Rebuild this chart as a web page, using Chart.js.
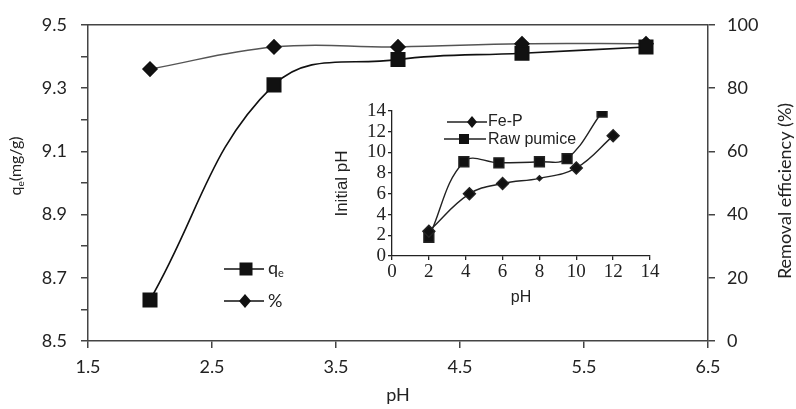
<!DOCTYPE html>
<html>
<head>
<meta charset="utf-8">
<script src="https://cdn.jsdelivr.net/npm/chart.js@4"></script>
<style>
  html, body { margin: 0; padding: 0; background: #fff; }
  #wrap { position: relative; width: 796px; height: 409px; }
  #mainChart { position: absolute; left: 0; top: 0; }
  #insetChart { position: absolute; left: 332px; top: 95px; }
</style>
</head>
<body>
<div id="wrap">
  <canvas id="mainChart" width="796" height="409"></canvas>
  <canvas id="insetChart" width="338" height="212"></canvas>
</div>
<script>
// Main chart data
const phValues = [2, 3, 4, 5, 6];
const qeValues = [8.63, 9.31, 9.39, 9.41, 9.43];
const removalValues = [86, 93, 93, 94, 94];

// Inset data (initial pH vs final pH)
const fePh = [2, 4.2, 6, 8, 10, 12];
const fePInitial = [2.4, 6.0, 7.0, 7.5, 8.5, 11.6];
const pumicePh = [2, 3.9, 5.8, 8, 9.5, 11.4];
const pumiceInitial = [1.8, 9.1, 9.0, 9.1, 9.4, 13.9];

// Tick labels
const phTicks = [1.5, 2.5, 3.5, 4.5, 5.5, 6.5];
const qeTicks = [8.5, 8.7, 8.9, 9.1, 9.3, 9.5];
const qeMinorTicks = [8.6, 8.8, 9.0, 9.2, 9.4];
const removalTicks = [0, 20, 40, 60, 80, 100];
const insetTicks = [0, 2, 4, 6, 8, 10, 12, 14];

const mainFont = 'Lato';
const serifFont = 'Liberation Serif, DejaVu Serif, serif';
const sansFont = 'Liberation Sans, DejaVu Sans, sans-serif';
const textColor = '#222';
const axisColor = '#444';

function toPoints(xs, ys) {
    return xs.map((x, i) => ({ x: x, y: ys[i] }));
}

// Desenha texto com subscrito (q + e)
function drawSubText(ctx, base, sub, rest, size, x, y) {
    const subSize = Math.round(size * 0.6);
    ctx.textAlign = 'left';
    ctx.textBaseline = 'middle';
    ctx.font = size + 'px ' + mainFont;
    const w1 = ctx.measureText(base).width;
    ctx.fillText(base, x, y);
    ctx.font = subSize + 'px ' + mainFont;
    const w2 = ctx.measureText(sub).width;
    ctx.fillText(sub, x + w1, y + size * 0.3);
    ctx.font = size + 'px ' + mainFont;
    ctx.fillText(rest, x + w1 + w2, y);
}

function subTextWidth(ctx, base, sub, rest, size) {
    ctx.font = size + 'px ' + mainFont;
    const w = ctx.measureText(base + rest).width;
    ctx.font = Math.round(size * 0.6) + 'px ' + mainFont;
    return w + ctx.measureText(sub).width;
}

function drawSquare(ctx, x, y, half) {
    ctx.fillRect(x - half, y - half, half * 2, half * 2);
}

function drawDiamond(ctx, x, y, hw, hh) {
    ctx.beginPath();
    ctx.moveTo(x, y - hh);
    ctx.lineTo(x + hw, y);
    ctx.lineTo(x, y + hh);
    ctx.lineTo(x - hw, y);
    ctx.closePath();
    ctx.fill();
}

// Titulos, moldura e legenda do grafico principal
const mainExtras = {
    id: 'mainExtras',
    afterDraw(chart) {
        const ctx = chart.ctx;
        const area = chart.chartArea;
        ctx.save();
        ctx.strokeStyle = axisColor;
        ctx.lineWidth = 1.5;
        ctx.beginPath();
        ctx.moveTo(area.left, area.top);
        ctx.lineTo(area.right, area.top);
        ctx.stroke();

        ctx.fillStyle = textColor;
        // left title
        ctx.save();
        ctx.translate(16, 166);
        ctx.rotate(-Math.PI / 2);
        const full = subTextWidth(ctx, 'q', 'e', '(mg/g)', 16);
        drawSubText(ctx, 'q', 'e', '(mg/g)', 16, -full / 2, 0);
        ctx.restore();

        // right title
        ctx.save();
        ctx.translate(785, 191);
        ctx.rotate(-Math.PI / 2);
        ctx.font = '18px ' + mainFont;
        ctx.textAlign = 'center';
        ctx.textBaseline = 'middle';
        ctx.fillText('Removal efficiency (%)', 0, 0);
        ctx.restore();

        // legend
        ctx.strokeStyle = '#111';
        ctx.fillStyle = '#111';
        ctx.lineWidth = 1.5;
        ctx.beginPath();
        ctx.moveTo(224, 269); ctx.lineTo(264, 269);
        ctx.moveTo(224, 301); ctx.lineTo(264, 301);
        ctx.stroke();
        drawSquare(ctx, 246, 269, 6.5);
        drawDiamond(ctx, 245, 301, 6, 7);
        ctx.fillStyle = textColor;
        drawSubText(ctx, 'q', 'e', '', 18, 268, 268);
        ctx.font = '18px ' + mainFont;
        ctx.fillText('%', 268, 301);
        ctx.restore();
    }
};

const mainGrid = { display: true, drawOnChartArea: false, drawTicks: true, tickLength: 7, color: axisColor, lineWidth: 1.5 };

new Chart(document.getElementById('mainChart'), {
    type: 'line',
    data: {
        datasets: [{
            label: 'qe',
            data: toPoints(phValues, qeValues),
            yAxisID: 'yQe',
            borderColor: '#111',
            backgroundColor: '#111',
            borderWidth: 1.6,
            pointStyle: 'rect',
            pointRadius: 9.5,
            tension: 0.4
        }, {
            label: '%',
            data: toPoints(phValues, removalValues),
            yAxisID: 'yRem',
            borderColor: '#555',
            backgroundColor: '#111',
            pointBorderColor: '#111',
            borderWidth: 1.5,
            pointStyle: 'rectRot',
            pointRadius: 7,
            tension: 0.4
        }]
    },
    options: {
        responsive: false,
        animation: false,
        layout: { padding: { top: 15, left: 0, right: 0, bottom: 0 } },
        plugins: { legend: { display: false }, tooltip: { enabled: false } },
        scales: {
            x: {
                type: 'linear',
                min: 1.5,
                max: 6.5,
                afterBuildTicks: scale => { scale.ticks = phTicks.map(v => ({ value: v })); },
                afterFit: scale => { scale.height = 68; },
                grid: mainGrid,
                border: { color: axisColor, width: 1.5 },
                ticks: {
                    color: textColor,
                    font: { family: mainFont, size: 18 },
                    padding: 8,
                    callback: v => v.toFixed(1)
                },
                title: {
                    display: true,
                    text: 'pH',
                    color: textColor,
                    font: { family: mainFont, size: 18 },
                    padding: { top: 0, bottom: 3 }
                }
            },
            yQe: {
                position: 'left',
                min: 8.5,
                max: 9.5,
                afterBuildTicks: scale => {
                    scale.ticks = qeTicks.concat(qeMinorTicks).sort((a, b) => a - b).map(v => ({ value: v }));
                },
                afterFit: scale => { scale.width = 88; },
                grid: mainGrid,
                border: { color: axisColor, width: 1.5 },
                ticks: {
                    color: textColor,
                    font: { family: mainFont, size: 18 },
                    padding: 14,
                    autoSkip: false,
                    callback: v => qeTicks.some(t => Math.abs(t - v) < 1e-6) ? v.toFixed(1) : ''
                }
            },
            yRem: {
                position: 'right',
                min: 0,
                max: 100,
                afterBuildTicks: scale => { scale.ticks = removalTicks.map(v => ({ value: v })); },
                afterFit: scale => { scale.width = 88; },
                grid: mainGrid,
                border: { color: axisColor, width: 1.5 },
                ticks: {
                    color: textColor,
                    font: { family: mainFont, size: 18 },
                    padding: 12
                }
            }
        }
    },
    plugins: [mainExtras]
});

// Legenda do grafico interno
const insetLegend = {
    id: 'insetLegend',
    afterDraw(chart) {
        const ctx = chart.ctx;
        ctx.save();
        ctx.strokeStyle = '#222';
        ctx.fillStyle = '#111';
        ctx.lineWidth = 1.4;
        ctx.beginPath();
        ctx.moveTo(115, 27); ctx.lineTo(155, 27);
        ctx.moveTo(112, 44); ctx.lineTo(154, 44);
        ctx.stroke();
        drawDiamond(ctx, 140, 27, 5, 6);
        drawSquare(ctx, 132, 44, 5);
        ctx.fillStyle = textColor;
        ctx.font = '16px ' + sansFont;
        ctx.textAlign = 'left';
        ctx.textBaseline = 'middle';
        ctx.fillText('Fe-P', 156, 27);
        ctx.fillText('Raw pumice', 156, 45);
        ctx.restore();
    }
};

const insetGrid = { display: true, drawOnChartArea: false, drawTicks: true, tickLength: 4, color: '#222', lineWidth: 1.3 };

new Chart(document.getElementById('insetChart'), {
    type: 'line',
    data: {
        datasets: [{
            label: 'Fe-P',
            data: toPoints(fePh, fePInitial),
            borderColor: '#222',
            backgroundColor: '#111',
            borderWidth: 1.4,
            pointStyle: 'rectRot',
            pointRadius: [6, 6, 6, 2.5, 6, 6],
            tension: 0.4
        }, {
            label: 'Raw pumice',
            data: toPoints(pumicePh, pumiceInitial),
            borderColor: '#222',
            backgroundColor: '#111',
            borderWidth: 1.4,
            pointStyle: 'rect',
            pointRadius: 7,
            tension: 0.4
        }]
    },
    options: {
        responsive: false,
        animation: false,
        layout: { padding: { top: 16, left: 0, right: 20, bottom: 0 } },
        plugins: { legend: { display: false }, tooltip: { enabled: false } },
        scales: {
            x: {
                type: 'linear',
                min: 0,
                max: 14,
                afterBuildTicks: scale => { scale.ticks = insetTicks.map(v => ({ value: v })); },
                afterFit: scale => { scale.height = 51; },
                grid: insetGrid,
                border: { color: '#222', width: 1.3 },
                ticks: { color: textColor, font: { family: serifFont, size: 19 }, padding: 1, autoSkip: false, maxRotation: 0 },
                title: { display: true, text: 'pH', color: textColor, font: { family: sansFont, size: 16 }, padding: { top: 0, bottom: 0 } }
            },
            y: {
                min: 0,
                max: 14,
                afterBuildTicks: scale => { scale.ticks = insetTicks.map(v => ({ value: v })); },
                afterFit: scale => { scale.width = 60; },
                grid: insetGrid,
                border: { color: '#222', width: 1.3 },
                ticks: { color: textColor, font: { family: serifFont, size: 19 }, padding: 2, autoSkip: false },
                title: { display: true, text: 'Initial pH', color: textColor, font: { family: sansFont, size: 17 }, padding: { top: 0, bottom: 0 } }
            }
        }
    },
    plugins: [insetLegend]
});
</script>
</body>
</html>
